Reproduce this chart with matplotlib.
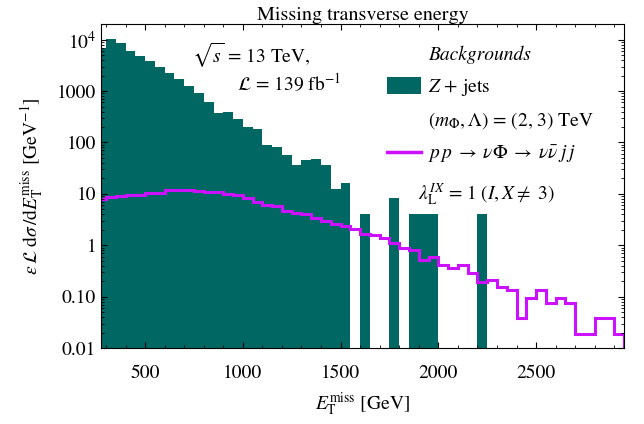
import numpy as np
import matplotlib
matplotlib.use("Agg")
import matplotlib.pyplot as plt
from matplotlib.lines import Line2D
from matplotlib.patches import Patch
from matplotlib.ticker import FixedLocator, FixedFormatter, MultipleLocator

plt.rcParams['font.family'] = ['STIXGeneral', 'DejaVu Serif']
plt.rcParams['mathtext.fontset'] = 'stix'

# 50 GeV bins in missing transverse energy
bin_width = 50
bin_edges = np.arange(250, 2950 + bin_width, bin_width)

# Z + jets background, events per bin (zero = empty bin)
zjets = [7000, 10300, 8500, 6100, 4900, 3830, 2980, 2200, 1710, 1250,
         900, 620, 380, 400, 292, 197, 186, 88, 81, 58,
         37, 45, 48, 37, 12.5, 16.4, 0, 4.1, 0, 0,
         8.2, 0, 4.1, 4.1, 4.1, 0, 0, 0, 0, 4.1,
         0, 0, 0, 0, 0, 0, 0, 0, 0, 0,
         0, 0, 0, 0]

# signal: pp -> nu Phi -> nu nubar j j
signal = [7.8, 8.6, 9.2, 9.6, 9.5, 10.2, 10.5, 11.8, 11.9, 11.8,
          11.5, 10.8, 10.9, 10.0, 9.4, 8.2, 6.9, 6.1, 5.75, 4.72,
          4.2, 4.07, 3.4, 2.93, 2.56, 2.34, 2.07, 1.66, 1.58, 1.36,
          1.10, 0.89, 0.82, 0.51, 0.59, 0.42, 0.36, 0.41, 0.29, 0.19,
          0.21, 0.151, 0.135, 0.038, 0.096, 0.135, 0.074, 0.096, 0.077, 0.019,
          0.019, 0.039, 0.039, 0.019]

ytick_vals = [0.01, 0.1, 1, 10, 100, 1000, 1e4]
ytick_labels = ['0.01', '0.10', '1', '10', '100', '1000', r'$10^4$']

teal = '#006763'
violet = '#cc11ff'

fig, ax = plt.subplots(figsize=(6.44, 4.24), dpi=100)
fig.subplots_adjust(left=0.157, right=0.969, bottom=0.179, top=0.943)

zjets = np.array(zjets, dtype=float)
mask = zjets > 0
ax.bar(bin_edges[:-1][mask], zjets[mask], width=bin_width, align='edge',
       color=teal, linewidth=0)
ax.stairs(signal, bin_edges, color=violet, linewidth=2.2)

ax.set_yscale('log')
ax.set_xlim(275, 2950)
ax.set_ylim(0.01, 2e4)

ax.yaxis.set_major_locator(FixedLocator(ytick_vals))
ax.yaxis.set_major_formatter(FixedFormatter(ytick_labels))
ax.xaxis.set_major_locator(MultipleLocator(500))
ax.xaxis.set_minor_locator(MultipleLocator(100))
ax.tick_params(which='both', direction='in', top=True, right=True, labelsize=14)
ax.tick_params(which='major', length=4, width=0.8)
ax.tick_params(which='minor', length=2, width=0.6)
ax.tick_params(axis='x', pad=12)

ax.set_xlabel(r'$E_\mathrm{T}^\mathrm{miss}$ [GeV]', fontsize=14, labelpad=6)
ax.set_ylabel(r'$\varepsilon\,\mathcal{L}\;\mathrm{d}\sigma\,/\mathrm{d}E_\mathrm{T}^\mathrm{miss}$ [GeV$^{-1}$]',
              fontsize=14, labelpad=8)
ax.set_title('Missing transverse energy', fontsize=14.5, pad=3)

ax.text(0.174, 0.904, r'$\sqrt{s}$ = 13 TeV,', transform=ax.transAxes,
        fontsize=14, va='center', ha='left')
ax.text(0.26, 0.818, r'$\mathcal{L}$ = 139 fb$^{-1}$', transform=ax.transAxes,
        fontsize=14, va='center', ha='left')

blank = Line2D([], [], linestyle='none')
handles = [blank,
           Patch(facecolor=teal, edgecolor='none'),
           blank,
           Line2D([], [], color=violet, linewidth=2.5)]
labels = ['Backgrounds',
          r'$Z$ + jets',
          r'$(m_\Phi, \Lambda)$ = (2, 3) TeV',
          r'$p\,p\;\to\;\nu\Phi\;\to\;\nu\bar{\nu}\;j\,j$']
leg = ax.legend(handles, labels, loc='upper left', bbox_to_anchor=(0.547, 0.936),
                frameon=False, fontsize=14, borderpad=0, borderaxespad=0,
                handlelength=1.75, handleheight=1.0, handletextpad=0.36,
                labelspacing=0.64)
leg.get_texts()[0].set_fontstyle('italic')

ax.text(0.606, 0.474, r'$\lambda_\mathrm{L}^{IX}$ = 1 ($I, X \neq$ 3)',
        transform=ax.transAxes, fontsize=14, va='center', ha='left')

fig.savefig('out.png', dpi=100)
